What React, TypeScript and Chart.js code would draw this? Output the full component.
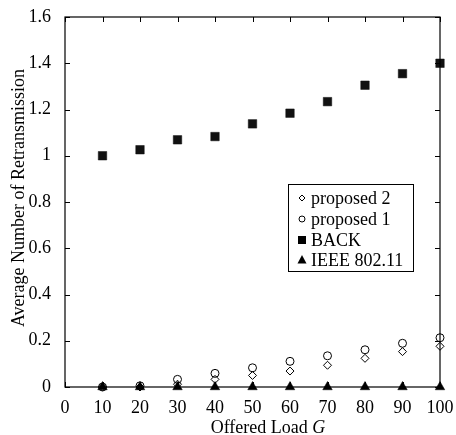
import React, { useEffect, useRef } from "react";
import { Chart, registerables } from "chart.js";

Chart.register(...registerables);

const offeredLoad = [10, 20, 30, 40, 50, 60, 70, 80, 90, 100];
const proposed2 = [0, 0, 0.012, 0.033, 0.05, 0.069, 0.094, 0.124, 0.153, 0.176];
const proposed1 = [0, 0.005, 0.033, 0.059, 0.083, 0.111, 0.135, 0.161, 0.189, 0.213];
const back = [1.0, 1.026, 1.069, 1.083, 1.138, 1.184, 1.234, 1.305, 1.355, 1.4];
const ieee80211 = [0, 0, 0, 0, 0, 0, 0, 0, 0, 0];

const seriesLabels = ["proposed 2", "proposed 1", "BACK", "IEEE 802.11"];
const xTitle = "Offered Load ";
const xTitleItalic = "G";
const yTitle = "Average Number of Retransmission";

const FONT = "'Liberation Serif', 'Times New Roman', serif";
const FS = 18;

function drawShape(ctx: CanvasRenderingContext2D, style: string, x: number, y: number, r: number) {
  ctx.beginPath();
  if (style === "rectRot") {
    ctx.moveTo(x, y - r);
    ctx.lineTo(x + r, y);
    ctx.lineTo(x, y + r);
    ctx.lineTo(x - r, y);
    ctx.closePath();
    ctx.stroke();
  } else if (style === "circle") {
    ctx.arc(x, y, r, 0, Math.PI * 2);
    ctx.stroke();
  } else if (style === "rect") {
    ctx.rect(x - r, y - r, 2 * r, 2 * r);
    ctx.fill();
  } else if (style === "triangle") {
    ctx.moveTo(x, y - r * 1.1);
    ctx.lineTo(x + r, y + r * 0.75);
    ctx.lineTo(x - r, y + r * 0.75);
    ctx.closePath();
    ctx.fill();
  }
}

const framePlugin = {
  id: "frame",
  afterDraw(chart: any) {
    const { ctx, chartArea } = chart;
    const { left, right, top, bottom } = chartArea;
    const xs = chart.scales.x;
    const ys = chart.scales.y;
    ctx.save();
    ctx.strokeStyle = "#000";
    ctx.lineWidth = 1.2;
    ctx.strokeRect(left, top, right - left, bottom - top);
    const tl = 5;
    ctx.beginPath();
    xs.ticks.forEach((t: any) => {
      const px = Math.round(xs.getPixelForValue(t.value)) + 0.5;
      ctx.moveTo(px, bottom);
      ctx.lineTo(px, bottom - tl);
      ctx.moveTo(px, top);
      ctx.lineTo(px, top + tl);
    });
    ys.ticks.forEach((t: any) => {
      const py = Math.round(ys.getPixelForValue(t.value)) + 0.5;
      ctx.moveTo(left, py);
      ctx.lineTo(left + tl, py);
      ctx.moveTo(right, py);
      ctx.lineTo(right - tl, py);
    });
    ctx.lineWidth = 1;
    ctx.stroke();

    // axis titles
    ctx.fillStyle = "#000";
    ctx.font = `${FS}px ${FONT}`;
    const w1 = ctx.measureText(xTitle).width;
    ctx.font = `italic ${FS}px ${FONT}`;
    const w2 = ctx.measureText(xTitleItalic).width;
    const cx = 268;
    const startX = cx - (w1 + w2) / 2;
    ctx.textAlign = "left";
    ctx.textBaseline = "alphabetic";
    ctx.font = `${FS}px ${FONT}`;
    ctx.fillText(xTitle, startX, 433);
    ctx.font = `italic ${FS}px ${FONT}`;
    ctx.fillText(xTitleItalic, startX + w1, 433);

    ctx.save();
    ctx.translate(19, 198);
    ctx.rotate(-Math.PI / 2);
    ctx.font = `${FS}px ${FONT}`;
    ctx.textAlign = "center";
    ctx.textBaseline = "middle";
    ctx.fillText(yTitle, 0, 0);
    ctx.restore();

    // legend
    const bx = 288.5, by = 184.5, bw = 125, bh = 87;
    ctx.lineWidth = 1;
    ctx.strokeRect(bx, by, bw, bh);
    const rows = [198, 219, 240, 260];
    const sizes: Record<string, number> = { rectRot: 3, circle: 3, rect: 4, triangle: 4.5 };
    chart.data.datasets.forEach((ds: any, i: number) => {
      const y = rows[i];
      ctx.strokeStyle = "#000";
      ctx.fillStyle = "#000";
      ctx.lineWidth = 1;
      drawShape(ctx, ds.pointStyle, 302, y, sizes[ds.pointStyle]);
      ctx.font = `${FS}px ${FONT}`;
      ctx.textAlign = "left";
      ctx.textBaseline = "middle";
      ctx.fillText(ds.label, 311, y + 1);
    });
    ctx.restore();
  },
};

export default function App() {
  const canvasRef = useRef<HTMLCanvasElement | null>(null);

  useEffect(() => {
    document.body.style.margin = "0";
    const canvas = canvasRef.current;
    if (!canvas) return;
    const mk = (arr: number[]) => arr.map((v, i) => ({ x: offeredLoad[i], y: v }));
    const chart = new Chart(canvas, {
      type: "scatter",
      data: {
        datasets: [
          {
            label: seriesLabels[0],
            data: mk(proposed2),
            pointStyle: "rectRot",
            pointRadius: 4,
            borderColor: "#000",
            backgroundColor: "rgba(255,255,255,0)",
            borderWidth: 1,
            clip: false,
          },
          {
            label: seriesLabels[1],
            data: mk(proposed1),
            pointStyle: "circle",
            pointRadius: 4,
            borderColor: "#000",
            backgroundColor: "rgba(255,255,255,0)",
            borderWidth: 1,
            clip: false,
          },
          {
            label: seriesLabels[2],
            data: mk(back),
            pointStyle: "rect",
            pointRadius: 6,
            borderColor: "#111",
            backgroundColor: "#111",
            borderWidth: 0.5,
            clip: false,
          },
          {
            label: seriesLabels[3],
            data: mk(ieee80211),
            pointStyle: "triangle",
            pointRadius: 5.5,
            borderColor: "#000",
            backgroundColor: "#000",
            borderWidth: 0.5,
            clip: false,
          },
        ] as any,
      },
      options: {
        animation: false,
        responsive: false,
        maintainAspectRatio: false,
        layout: { padding: { top: 17, right: 16, left: 0, bottom: 0 } },
        plugins: {
          legend: { display: false },
          tooltip: { enabled: false },
          title: { display: false },
        },
        scales: {
          x: {
            type: "linear",
            min: 0,
            max: 100,
            grid: { display: false },
            border: { display: false },
            ticks: {
              stepSize: 10,
              color: "#000",
              font: { family: FONT, size: FS },
              padding: 2,
              maxRotation: 0,
            },
            afterFit: (scale: any) => {
              scale.height = 48;
            },
          },
          y: {
            type: "linear",
            min: 0,
            max: 1.6,
            grid: { display: false },
            border: { display: false },
            ticks: {
              stepSize: 0.2,
              color: "#000",
              font: { family: FONT, size: FS },
              padding: 6,
              callback: (v: any) => String(Math.round(Number(v) * 10) / 10),
            },
            afterFit: (scale: any) => {
              scale.width = 65;
            },
          },
        },
      } as any,
      plugins: [framePlugin],
    });
    return () => chart.destroy();
  }, []);

  return (
    <div style={{ width: 456, height: 435, background: "#fff" }}>
      <canvas ref={canvasRef} width={456} height={435} style={{ display: "block" }} />
    </div>
  );
}
